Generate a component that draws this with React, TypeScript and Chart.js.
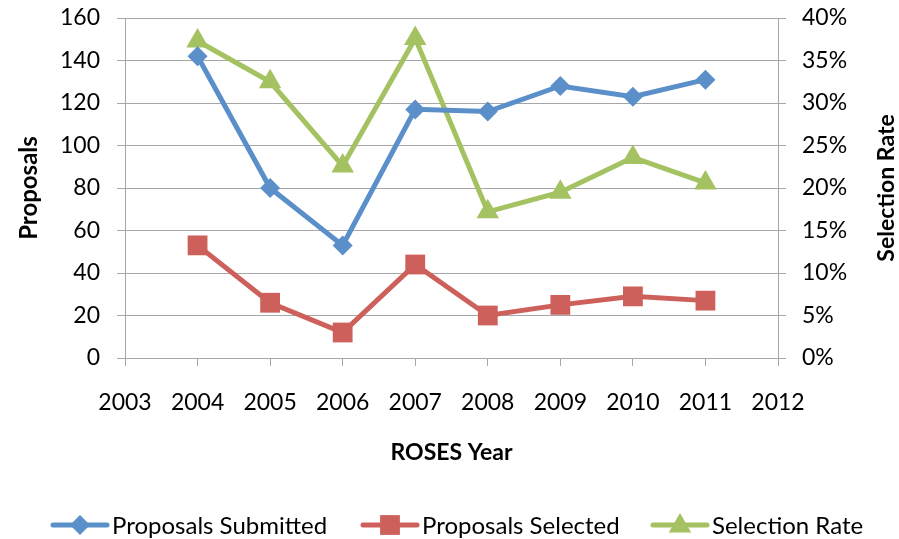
import React, { useEffect, useRef } from "react";
import { Chart, registerables } from "chart.js";

Chart.register(...registerables);

const years = [2004, 2005, 2006, 2007, 2008, 2009, 2010, 2011];
const xTicks = [2003, 2004, 2005, 2006, 2007, 2008, 2009, 2010, 2011, 2012];
const submitted = [142, 80, 53, 117, 116, 128, 123, 131];
const selected = [53, 26, 12, 44, 20, 25, 29, 27];
const selectionRate = [0.373, 0.325, 0.226, 0.376, 0.172, 0.195, 0.236, 0.206];
const leftTicks = [0, 20, 40, 60, 80, 100, 120, 140, 160];
const rightTicks = [0, 0.05, 0.1, 0.15, 0.2, 0.25, 0.3, 0.35, 0.4];

const BLUE = "#5b8fc9";
const RED = "#cd605a";
const GREEN = "#a5c262";
const GRID = "#a6a6a6";
const FONT = "Lato, 'Open Sans', sans-serif";

const seriesNames = ["Proposals Submitted", "Proposals Selected", "Selection Rate"];
const rightTitle = "Selection Rate";

function drawMarker(ctx: CanvasRenderingContext2D, style: string, r: number, x: number, y: number) {
  ctx.beginPath();
  if (style === "rectRot") {
    ctx.moveTo(x, y - r);
    ctx.lineTo(x + r, y);
    ctx.lineTo(x, y + r);
    ctx.lineTo(x - r, y);
  } else if (style === "rect") {
    const s = Math.SQRT1_2 * r;
    ctx.rect(x - s, y - s, 2 * s, 2 * s);
  } else {
    for (let k = 0; k < 3; k++) {
      const a = -Math.PI / 2 + (k * 2 * Math.PI) / 3;
      const px = x + Math.cos(a) * r;
      const py = y + Math.sin(a) * r;
      if (k === 0) ctx.moveTo(px, py);
      else ctx.lineTo(px, py);
    }
  }
  ctx.closePath();
  ctx.fill();
}

const legendPlugin = {
  id: "customLegend",
  afterDraw(chart: any) {
    const ctx = chart.ctx;
    const items = [
      { x: 53, label: seriesNames[0], color: BLUE, style: "rectRot", r: 10 },
      { x: 363, label: seriesNames[1], color: RED, style: "rect", r: 14 },
      { x: 653, label: seriesNames[2], color: GREEN, style: "triangle", r: 13 },
    ];
    const y = 525;
    ctx.save();
    ctx.textBaseline = "middle";
    items.forEach((it) => {
      ctx.strokeStyle = it.color;
      ctx.lineWidth = 5;
      ctx.lineCap = "round";
      ctx.beginPath();
      ctx.moveTo(it.x, y);
      ctx.lineTo(it.x + 54, y);
      ctx.stroke();
      ctx.fillStyle = it.color;
      drawMarker(ctx, it.style, it.r, it.x + 27, y + (it.style === "triangle" ? 1 : 0));
      ctx.fillStyle = "#000";
      ctx.font = `24px ${FONT}`;
      ctx.fillText(it.label, it.x + 59, y + 1);
    });
    const area = chart.chartArea;
    ctx.translate(887, (area.top + area.bottom) / 2);
    ctx.rotate(-Math.PI / 2);
    ctx.textAlign = "center";
    ctx.font = `bold 23px ${FONT}`;
    ctx.fillText(rightTitle, 0, 0);
    ctx.restore();
  },
};

export default function App() {
  const ref = useRef<HTMLCanvasElement>(null);
  useEffect(() => {
    document.body.style.margin = "0";
    const canvas = ref.current!;
    const chart = new Chart(canvas, {
      type: "line",
      data: {
        datasets: [
          {
            label: seriesNames[0],
            data: years.map((y, i) => ({ x: y, y: submitted[i] })),
            borderColor: BLUE,
            backgroundColor: BLUE,
            borderWidth: 5,
            pointStyle: "rectRot",
            pointRadius: 10,
            pointBorderWidth: 0,
            yAxisID: "y",
          },
          {
            label: seriesNames[1],
            data: years.map((y, i) => ({ x: y, y: selected[i] })),
            borderColor: RED,
            backgroundColor: RED,
            borderWidth: 5,
            pointStyle: "rect",
            pointRadius: 14,
            pointBorderWidth: 0,
            yAxisID: "y",
          },
          {
            label: seriesNames[2],
            data: years.map((y, i) => ({ x: y, y: selectionRate[i] })),
            borderColor: GREEN,
            backgroundColor: GREEN,
            borderWidth: 5,
            pointStyle: "triangle",
            pointRadius: 13,
            pointBorderWidth: 0,
            yAxisID: "y1",
          },
        ],
      },
      options: {
        animation: false,
        responsive: false,
        layout: { padding: { top: 18, left: 0, right: 0, bottom: 73 } },
        plugins: { legend: { display: false }, tooltip: { enabled: false } },
        scales: {
          x: {
            type: "linear",
            min: 2003,
            max: 2012,
            afterBuildTicks: (s: any) => {
              s.ticks = xTicks.map((v) => ({ value: v }));
            },
            afterFit: (s: any) => {
              s.height = 108;
              s.paddingLeft = 0;
              s.paddingRight = 0;
            },
            ticks: {
              callback: (v: any) => String(v),
              font: { family: FONT, size: 23 },
              color: "#000",
              padding: 23,
              maxRotation: 0,
              autoSkip: false,
            },
            grid: { drawOnChartArea: false, color: GRID, tickLength: 8, lineWidth: 1 },
            border: { color: GRID, width: 1 },
            title: {
              display: true,
              text: "ROSES Year",
              font: { family: FONT, size: 23, weight: "bold" },
              color: "#000",
              padding: { top: 0, bottom: 0 },
            },
          },
          y: {
            type: "linear",
            position: "left",
            min: 0,
            max: 160,
            afterBuildTicks: (s: any) => {
              s.ticks = leftTicks.map((v) => ({ value: v }));
            },
            afterFit: (s: any) => {
              s.width = 125;
              s.paddingTop = 0;
              s.paddingBottom = 0;
            },
            ticks: { font: { family: FONT, size: 23 }, color: "#000", padding: 17 },
            grid: { color: GRID, tickLength: 8, lineWidth: 1 },
            border: { color: GRID, width: 1 },
            title: {
              display: true,
              text: "Proposals",
              font: { family: FONT, size: 24, weight: "bold" },
              color: "#000",
              padding: { top: 15, bottom: 0 },
            },
          },
          y1: {
            type: "linear",
            position: "right",
            min: 0,
            max: 0.4,
            afterBuildTicks: (s: any) => {
              s.ticks = rightTicks.map((v) => ({ value: v }));
            },
            afterFit: (s: any) => {
              s.width = 121;
              s.paddingTop = 0;
              s.paddingBottom = 0;
            },
            ticks: {
              font: { family: FONT, size: 23 },
              color: "#000",
              padding: 16,
              callback: (v: any) => Math.round(Number(v) * 100) + "%",
            },
            grid: { drawOnChartArea: false, color: GRID, tickLength: 8, lineWidth: 1 },
            border: { color: GRID, width: 1 },
            title: { display: false },
          },
        },
      },
      plugins: [legendPlugin],
    } as any);
    return () => chart.destroy();
  }, []);
  return <canvas ref={ref} width={899} height={539} style={{ display: "block" }} />;
}
